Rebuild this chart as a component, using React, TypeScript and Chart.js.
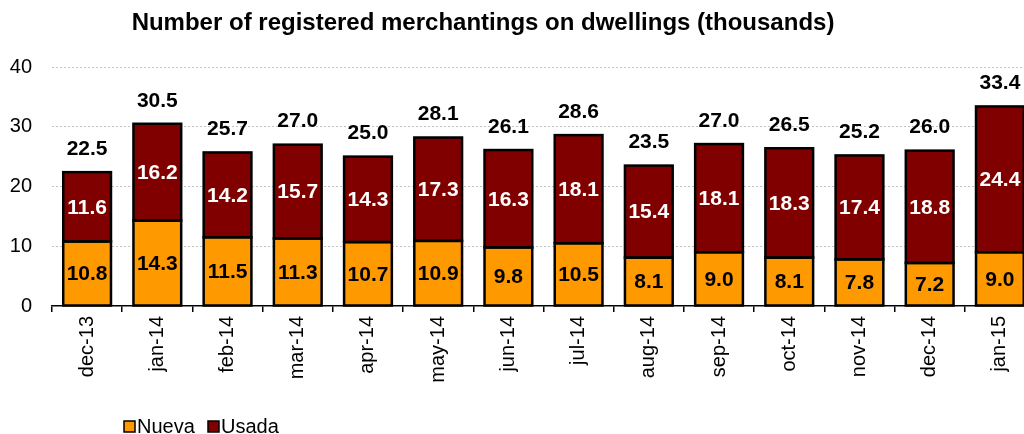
import React, { useEffect, useRef } from "react";
import { Chart, registerables } from "chart.js";

Chart.register(...registerables);

const categories = ["dec-13", "jan-14", "feb-14", "mar-14", "apr-14", "may-14", "jun-14", "jul-14", "aug-14", "sep-14", "oct-14", "nov-14", "dec-14", "jan-15"];
const nueva = [10.8, 14.3, 11.5, 11.3, 10.7, 10.9, 9.8, 10.5, 8.1, 9.0, 8.1, 7.8, 7.2, 9.0];
const usada = [11.6, 16.2, 14.2, 15.7, 14.3, 17.3, 16.3, 18.1, 15.4, 18.1, 18.3, 17.4, 18.8, 24.4];
const totals = [22.5, 30.5, 25.7, 27.0, 25.0, 28.1, 26.1, 28.6, 23.5, 27.0, 26.5, 25.2, 26.0, 33.4];
const yTicks = [0, 10, 20, 30, 40];

const TITLE = "Number of registered merchantings on dwellings (thousands)";
const ORANGE = "#FF9900";
const DARKRED = "#800000";
const FONT = "'Liberation Sans', Arial, sans-serif";

const labelPlugin = {
  id: "labelPlugin",
  afterDatasetsDraw(chart: any) {
    const ctx = chart.ctx;
    ctx.save();
    ctx.strokeStyle = "#000";
    ctx.lineWidth = 2.5;
    for (let d = 0; d < 2; d++) {
      const meta = chart.getDatasetMeta(d);
      for (const el of meta.data) {
        const left = el.x - el.width / 2;
        const top = Math.min(el.y, el.base);
        const h = Math.abs(el.base - el.y);
        ctx.strokeRect(left, top, el.width, h);
      }
    }
    ctx.restore();
  },
  afterDraw(chart: any) {
    const ctx = chart.ctx;
    ctx.save();
    // title
    ctx.fillStyle = "#000";
    ctx.font = `bold 24px ${FONT}`;
    ctx.textAlign = "center";
    ctx.textBaseline = "middle";
    ctx.fillText(TITLE, 483, 23);

    const m0 = chart.getDatasetMeta(0);
    const m1 = chart.getDatasetMeta(1);
    ctx.font = `bold 21px ${FONT}`;
    for (let i = 0; i < categories.length; i++) {
      const b0 = m0.data[i];
      const b1 = m1.data[i];
      ctx.fillStyle = "#000";
      ctx.fillText(nueva[i].toFixed(1), b0.x, (b0.y + b0.base) / 2 + 1);
      ctx.fillStyle = "#fff";
      ctx.fillText(usada[i].toFixed(1), b1.x, (b1.y + b1.base) / 2 + 1);
      ctx.fillStyle = "#000";
      ctx.fillText(totals[i].toFixed(1), b1.x, b1.y - 23);
    }

    // legend
    const items = [
      { label: "Nueva", color: ORANGE, x: 124 },
      { label: "Usada", color: DARKRED, x: 208 },
    ];
    ctx.font = `20px ${FONT}`;
    ctx.textAlign = "left";
    for (const it of items) {
      ctx.fillStyle = it.color;
      ctx.fillRect(it.x, 421, 11, 11);
      ctx.strokeStyle = "#000";
      ctx.lineWidth = 1.5;
      ctx.strokeRect(it.x, 421, 11, 11);
      ctx.fillStyle = "#000";
      ctx.fillText(it.label, it.x + 13, 427);
    }
    ctx.restore();
  },
};

export default function App() {
  const ref = useRef<HTMLCanvasElement>(null);
  useEffect(() => {
    if (!ref.current) return;
    const chart = new Chart(ref.current, {
      type: "bar",
      data: {
        labels: categories,
        datasets: [
          { label: "Nueva", data: nueva, backgroundColor: ORANGE, borderWidth: 0, barPercentage: 0.68, categoryPercentage: 1 },
          { label: "Usada", data: usada, backgroundColor: DARKRED, borderWidth: 0, barPercentage: 0.68, categoryPercentage: 1 },
        ],
      },
      options: {
        animation: false,
        responsive: false,
        layout: { padding: { top: 67, right: 5, bottom: 0, left: 0 } },
        plugins: { legend: { display: false }, title: { display: false }, tooltip: { enabled: false } },
        scales: {
          x: {
            stacked: true,
            afterFit: (s: any) => { s.height = 128; },
            grid: { display: true, drawOnChartArea: false, drawTicks: true, tickLength: 6, color: "#000", lineWidth: 1.5 },
            border: { display: true, color: "#000", width: 1.5 },
            ticks: { color: "#000", font: { family: FONT, size: 20 }, minRotation: 90, maxRotation: 90, padding: 4, autoSkip: false },
          },
          y: {
            stacked: true,
            min: 0,
            max: 40,
            afterFit: (s: any) => { s.width = 52; },
            afterBuildTicks: (s: any) => { s.ticks = yTicks.map((v) => ({ value: v })); },
            grid: {
              drawTicks: false,
              color: (c: any) => (c.tick && c.tick.value === 0 ? "rgba(0,0,0,0)" : "#c4c4c4"),
              lineWidth: 1,
            },
            border: { display: false, dash: [2, 2] },
            ticks: { color: "#000", font: { family: FONT, size: 20 }, padding: 20 },
          },
        },
      },
      plugins: [labelPlugin],
    });
    return () => chart.destroy();
  }, []);
  return (
    <div style={{ position: "fixed", left: 0, top: 0, width: 1024, height: 434, overflow: "hidden", background: "#fff" }}>
      <canvas ref={ref} width={1040} height={434} style={{ width: 1040, height: 434, display: "block" }} />
    </div>
  );
}
